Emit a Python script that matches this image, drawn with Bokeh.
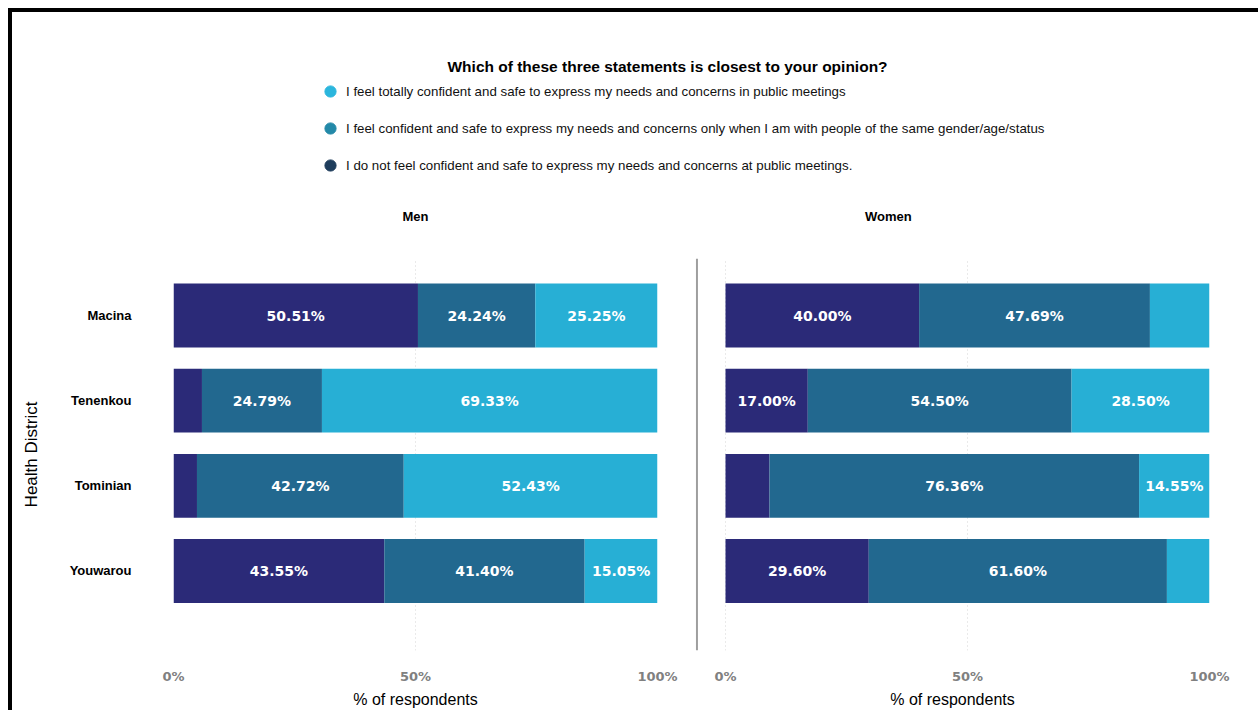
from bokeh.plotting import figure
from bokeh.layouts import column, row
from bokeh.models import (Range1d, FixedTicker, PrintfTickFormatter, Span, Label,
                          Legend, LegendItem, ColumnDataSource)
from bokeh.core.properties import value
from bokeh.embed import file_html
from bokeh.resources import INLINE

# ---------------- data ----------------
districts = ["Macina", "Tenenkou", "Tominian", "Youwarou"]
panels = ["Men", "Women"]
series_keys = ["not_confident", "same_group", "total"]
series_labels = [
    "I feel totally confident and safe to express my needs and concerns in public meetings",
    "I feel confident and safe to express my needs and concerns only when I am with people of the same gender/age/status",
    "I do not feel confident and safe to express my needs and concerns at public meetings.",
]
men_not_confident = [50.51, 5.88, 4.85, 43.55]
men_same_group = [24.24, 24.79, 42.72, 41.40]
men_total = [25.25, 69.33, 52.43, 15.05]
women_not_confident = [40.00, 17.00, 9.09, 29.60]
women_same_group = [47.69, 54.50, 76.36, 61.60]
women_total = [12.31, 28.50, 14.55, 8.80]
x_ticks = [0, 50, 100]

bar_colors = ["#2b2a78", "#22688f", "#27afd5"]        # not, same, total
legend_colors = ["#2bb6dd", "#2389a8", "#1e3d5c"]      # order of series_labels
LABEL_MIN = 14

FONT = "Liberation Sans"
n = len(districts)
ypos = [n - 1 - i for i in range(n)]
ROW_H = 462


def panel(vals, width, mb_left, mb_right, x_start, show_y):
    p = figure(width=width, height=ROW_H, x_range=Range1d(x_start, 100),
               y_range=Range1d(-0.934, 3.67), toolbar_location=None,
               output_backend="svg", min_border_left=mb_left, min_border_right=mb_right,
               min_border_top=10, min_border_bottom=50,
               y_axis_location="left" if show_y else None)
    p.outline_line_color = None
    p.background_fill_color = "white"
    p.border_fill_color = "white"

    src = ColumnDataSource(dict(y=ypos, not_confident=vals[0], same_group=vals[1], total=vals[2]))
    p.hbar_stack(series_keys, y="y", height=0.75, color=bar_colors, source=src, line_color=None)

    xs, ys, txt = [], [], []
    for i in range(n):
        left = 0
        for s in range(3):
            v = vals[s][i]
            if v >= LABEL_MIN:
                xs.append(left + v / 2)
                ys.append(ypos[i])
                txt.append(f"{v:.2f}%")
            left += v
    p.text(x=xs, y=ys, text=txt, text_align="center", text_baseline="middle",
           text_color="white", text_font=value("DejaVu Sans"), text_font_size="14px",
           text_font_style="bold")

    xa = p.xaxis[0]
    xa.ticker = FixedTicker(ticks=x_ticks)
    xa.formatter = PrintfTickFormatter(format="%d%%")
    xa.axis_line_color = None
    xa.major_tick_line_color = None
    xa.minor_tick_line_color = None
    xa.major_label_text_font = "DejaVu Sans"
    xa.major_label_text_font_style = "bold"
    xa.major_label_text_font_size = "13px"
    xa.major_label_text_color = "#808080"
    xa.major_label_standoff = 12
    xa.axis_label = "% of respondents"
    xa.axis_label_text_font = FONT
    xa.axis_label_text_font_style = "normal"
    xa.axis_label_text_font_size = "16px"
    xa.axis_label_text_color = "black"
    xa.axis_label_standoff = 4

    p.xgrid.ticker = FixedTicker(ticks=x_ticks)
    p.xgrid.grid_line_color = "#d5d5d5"
    p.xgrid.grid_line_dash = "1 3"
    p.ygrid.visible = False

    if show_y:
        ya = p.yaxis[0]
        ya.ticker = FixedTicker(ticks=ypos)
        ya.major_label_overrides = {ypos[i]: districts[i] for i in range(n)}
        ya.axis_line_color = None
        ya.major_tick_line_color = None
        ya.minor_tick_line_color = None
        ya.major_label_text_font = FONT
        ya.major_label_text_font_style = "bold"
        ya.major_label_text_font_size = "13px"
        ya.major_label_text_color = "black"
        ya.major_label_standoff = 36
        ya.axis_label = "Health District"
        ya.axis_label_text_font = FONT
        ya.axis_label_text_font_style = "normal"
        ya.axis_label_text_font_size = "17px"
        ya.axis_label_text_color = "black"
        ya.axis_label_standoff = 26
    return p


men = panel([men_not_confident, men_same_group, men_total], 683, 161, 38, 0, True)
women = panel([women_not_confident, women_same_group, women_total], 555, 0, 41, -6.2, False)
women.add_layout(Span(location=-5.9, dimension="height", line_color="#9e9e9e", line_width=2))

# ---------------- header (question, legend, panel titles) ----------------
HDR_H = 236
hdr = figure(width=1246, height=HDR_H, x_range=Range1d(0, 1), y_range=Range1d(0, 1),
             toolbar_location=None, output_backend="svg", x_axis_location=None,
             y_axis_location=None, min_border=0)
hdr.outline_line_color = None
hdr.xgrid.visible = False
hdr.ygrid.visible = False
hdr.add_layout(Label(x=0.5257, y=0.7712, text="Which of these three statements is closest to your opinion?",
                     text_align="center", text_baseline="middle", text_font=FONT,
                     text_font_size="15.5px", text_font_style="bold", text_color="black"))
for name, fx in zip(panels, [0.3234, 0.7030]):
    hdr.add_layout(Label(x=fx, y=0.1356, text=name, text_align="center", text_baseline="middle",
                         text_font=FONT, text_font_size="13px", text_font_style="bold",
                         text_color="black"))
nan = float("nan")
items = []
for lbl, col in zip(series_labels, legend_colors):
    r = hdr.scatter(x=[nan], y=[nan], marker="circle", size=11, fill_color=col, line_color=col)
    items.append(LegendItem(label=lbl, renderers=[r]))
leg = Legend(items=items, location=(304, 69), border_line_color=None, background_fill_alpha=0,
             padding=0, margin=0, spacing=9, glyph_width=28, glyph_height=28, label_height=14,
             label_standoff=2, label_text_font=FONT, label_text_font_size="13.3px",
             label_text_color="#111111")
hdr.add_layout(leg)

layout = column(hdr, row(men, women),
                styles={"border-left": "4px solid black", "border-top": "4px solid black",
                        "margin-left": "8px", "margin-top": "8px"})

open("out.html", "w").write(file_html(layout, INLINE))
